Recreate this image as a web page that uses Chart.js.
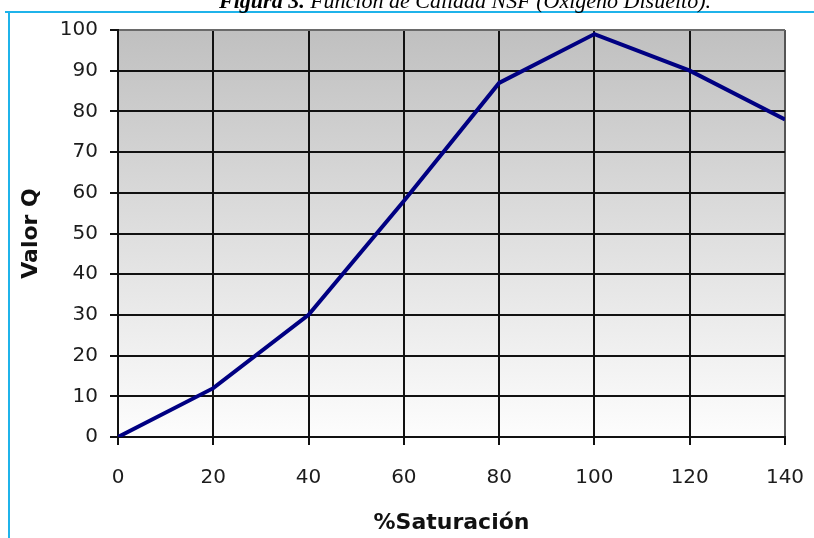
<!DOCTYPE html>
<html>
<head>
<meta charset="utf-8">
<script src="https://cdn.jsdelivr.net/npm/chart.js@4.4.1/dist/chart.umd.min.js"></script>
<style>
  html, body { margin: 0; padding: 0; background: #ffffff; }
  #wrap { position: relative; width: 814px; height: 538px; overflow: hidden; }
  canvas { display: block; }
</style>
</head>
<body>
<div id="wrap"><canvas id="c" width="814" height="538"></canvas></div>
<script>
// Función de calidad NSF para oxígeno disuelto
const saturacion = [0, 20, 40, 60, 80, 100, 120, 140];
const valorQ = [0, 12, 30, 58, 87, 99, 90, 78];
const xTicks = [0, 20, 40, 60, 80, 100, 120, 140];
const yTicks = [0, 10, 20, 30, 40, 50, 60, 70, 80, 90, 100];

const tituloNegrita = 'Figura 3. ';
const tituloCursiva = 'Función de Calidad NSF (Oxígeno Disuelto).';

// Marco azul, título y fondo degradado del área de trazado
const marco = {
  id: 'marco',
  beforeDraw(chart) {
    const ctx = chart.ctx;
    const a = chart.chartArea;
    ctx.save();
    ctx.fillStyle = '#ffffff';
    ctx.fillRect(0, 0, chart.width, chart.height);
    const g = ctx.createLinearGradient(0, a.top, 0, a.bottom);
    g.addColorStop(0, '#c0c0c0');
    g.addColorStop(1, '#fdfdfd');
    ctx.fillStyle = g;
    ctx.fillRect(a.left, a.top, a.right - a.left, a.bottom - a.top);
    ctx.restore();
  },
  afterDraw(chart) {
    const ctx = chart.ctx;
    ctx.save();
    ctx.strokeStyle = '#1fb3ea';
    ctx.lineWidth = 2;
    ctx.beginPath();
    ctx.moveTo(5, 12);
    ctx.lineTo(814, 12);
    ctx.moveTo(9, 12);
    ctx.lineTo(9, 538);
    ctx.stroke();

    ctx.fillStyle = '#000000';
    ctx.textBaseline = 'alphabetic';
    const fb = 'italic bold 22px "Liberation Serif"';
    const fi = 'italic 22px "Liberation Serif"';
    ctx.font = fb;
    const w1 = ctx.measureText(tituloNegrita).width;
    ctx.font = fi;
    const w2 = ctx.measureText(tituloCursiva).width;
    const x0 = 465 - (w1 + w2) / 2;
    ctx.font = fb;
    ctx.fillText(tituloNegrita, x0, 8);
    ctx.font = fi;
    ctx.fillText(tituloCursiva, x0 + w1, 8);
    ctx.restore();
  }
};

const tickFont = { family: '"DejaVu Sans"', size: 20 };
const titleFont = { family: '"DejaVu Sans"', size: 22, weight: 'bold' };

new Chart(document.getElementById('c'), {
  type: 'line',
  data: {
    labels: saturacion,
    datasets: [{
      data: saturacion.map((s, i) => ({ x: s, y: valorQ[i] })),
      borderColor: '#000082',
      borderWidth: 4,
      pointRadius: 0,
      tension: 0,
      fill: false
    }]
  },
  options: {
    responsive: false,
    animation: false,
    events: [],
    layout: { padding: { left: 0, right: 29, top: 30, bottom: 0 } },
    plugins: { legend: { display: false }, tooltip: { enabled: false }, title: { display: false } },
    scales: {
      x: {
        type: 'linear',
        min: 0, max: 140,
        afterBuildTicks(scale) { scale.ticks = xTicks.map(v => ({ value: v })); },
        afterFit(scale) { scale.height = 101; scale.paddingLeft = 0; scale.paddingRight = 0; },
        grid: {
          color: ctx => ctx.tick && ctx.tick.value === 140 ? '#555555' : '#111111',
          lineWidth: 2,
          tickLength: 8,
          tickColor: '#111111',
          drawOnChartArea: true
        },
        border: { color: '#111111', width: 2 },
        ticks: { font: tickFont, color: '#1c1c1c', padding: 21, maxRotation: 0 },
        title: { display: true, text: '%Saturación', font: titleFont, color: '#111111', padding: { top: 0, bottom: 2 } }
      },
      y: {
        min: 0, max: 100,
        afterBuildTicks(scale) { scale.ticks = yTicks.map(v => ({ value: v })); },
        afterFit(scale) { scale.width = 118; scale.paddingTop = 0; scale.paddingBottom = 0; },
        grid: {
          color: ctx => ctx.tick && ctx.tick.value === 100 ? '#6a6a6a' : '#111111',
          lineWidth: 2,
          tickLength: 8,
          tickColor: '#111111'
        },
        border: { color: '#111111', width: 2 },
        ticks: { font: tickFont, color: '#1c1c1c', padding: 12 },
        title: { display: true, text: 'Valor Q', font: titleFont, color: '#111111', padding: { top: 18, bottom: 0 } }
      }
    }
  },
  plugins: [marco]
});
</script>
</body>
</html>
